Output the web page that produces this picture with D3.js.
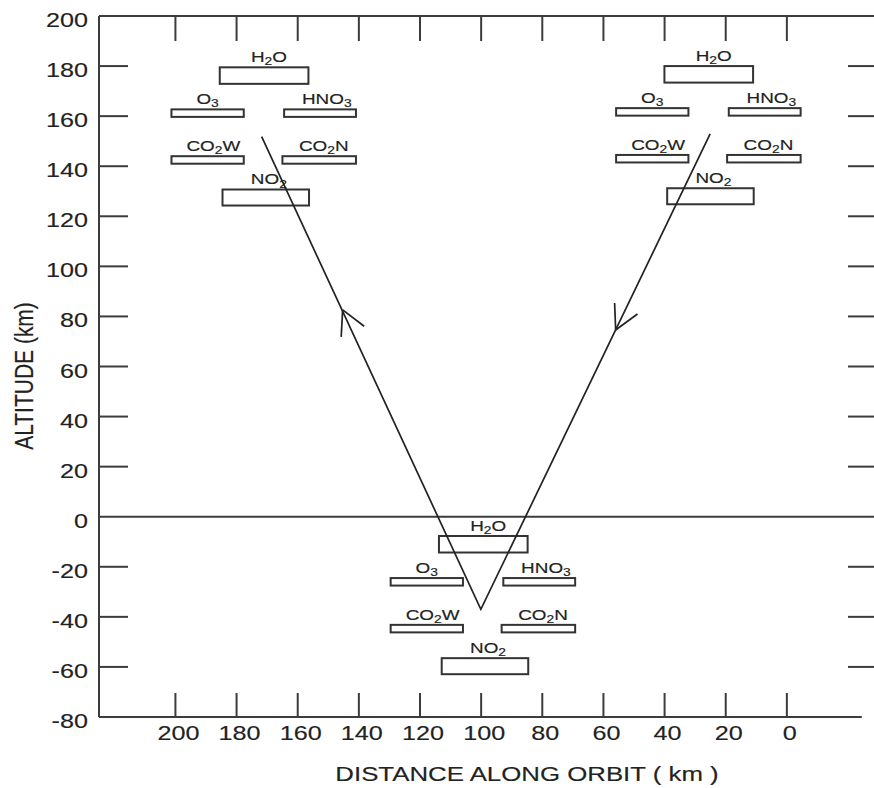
<!DOCTYPE html>
<html><head><meta charset="utf-8">
<script src="https://cdn.jsdelivr.net/npm/d3@7"></script>
<style>body{margin:0;background:#fff} svg{display:block} text{stroke:#222;stroke-width:0.15px}</style>
</head><body><svg id="c" width="874" height="788"></svg>
<script>
// ---- data ----
const xTicks = [200,180,160,140,120,100,80,60,40,20,0];
const yTickLabels = [200,180,160,140,120,100,80,60,40,20,0,-20,-40,-60,-80];
const yTickMarks = [180,160,140,120,100,80,60,40,20,-20,-40,-60];
const xTitle = "DISTANCE ALONG ORBIT ( km )";
const yTitle = "ALTITUDE (km)";

const instruments = ["H2O","O3","HNO3","CO2W","CO2N","NO2"];
const instKmNear   = [14.5, 30.3, -6.55, 30.3, -6.0, 13.6];
const instKmFar    = [-14.5, 6.65, -30.05, 6.65, -30.05, -14.7];
const instAltTop   = [0, -16.8, -16.8, -35.5, -35.5, -48.8];
const instAltBot   = [-6.6, -19.8, -19.8, -38.5, -38.5, -55.2];
const instLabelShift = [-1.6, 0, -2.2, -1.9, -1.5, -1.0];

const clusterKm  = [171.0, 25.55, 99.3];
const clusterAlt = [179.5, 180.0, -7.7];

const trackKm  = [25.1, 100.1, 171.8];
const trackAlt = [152.9, -37.0, 151.8];
const arrowKm  = [56.0, 145.3];
const arrowAlt = [74.6, 82.6];
const arrowSeg = [0, 1]; // segment index of track the arrow lies on

// ---- layout ----
const SX = 1.26; // horizontal text stretch of the reference
const svg = d3.select("#c");
const x = d3.scaleLinear().domain([225, -28.5]).range([99, 874]);
const y = d3.scaleLinear().domain([-80, 200]).range([717, 16]);
const AX = "#3c3c3c";
const FONT = "'Liberation Sans', Arial, Helvetica, sans-serif";

function stext(g, px, py, str, size, anchor) {
  return g.append("text")
    .attr("transform", `translate(${px},${py}) scale(${SX},1)`)
    .attr("text-anchor", anchor)
    .attr("font-family", FONT)
    .attr("font-size", size)
    .attr("fill", "#222")
    .text(str);
}

// frame lines
const frame = svg.append("g").attr("stroke", AX).attr("stroke-width", 2);
frame.append("line").attr("x1", x(225)).attr("x2", x(225)).attr("y1", y(200)).attr("y2", y(-80));
frame.append("line").attr("x1", x(225)).attr("x2", x(-28.5)).attr("y1", y(200)).attr("y2", y(200));
frame.append("line").attr("x1", x(225)).attr("x2", x(-24.5)).attr("y1", y(-80)).attr("y2", y(-80));
frame.append("line").attr("x1", x(225)).attr("x2", x(-28.5)).attr("y1", y(0)).attr("y2", y(0));

// ticks
const tk = svg.append("g").attr("stroke", AX).attr("stroke-width", 2);
xTicks.forEach(v => {
  tk.append("line").attr("x1", x(v)).attr("x2", x(v)).attr("y1", y(200)).attr("y2", y(200) + 25);
  tk.append("line").attr("x1", x(v)).attr("x2", x(v)).attr("y1", y(-80)).attr("y2", y(-80) - 24);
});
yTickMarks.forEach(v => {
  tk.append("line").attr("x1", x(225)).attr("x2", x(225) + 29).attr("y1", y(v)).attr("y2", y(v));
  tk.append("line").attr("x1", x(-28.5) - 26).attr("x2", x(-28.5)).attr("y1", y(v)).attr("y2", y(v));
});

// tick labels
const lab = svg.append("g");
yTickLabels.forEach(v => stext(lab, 88, y(v) + 11, String(v), 20, "end"));
xTicks.forEach(v => stext(lab, x(v) + 3, 740, String(v), 20, "middle"));

// axis titles
stext(lab, 527, 781, xTitle, 20.5, "middle");
lab.append("text")
  .attr("transform", `translate(33,376) scale(${SX},1) rotate(-90)`)
  .attr("text-anchor", "middle")
  .attr("font-family", FONT)
  .attr("font-size", 21).attr("fill", "#222").text(yTitle);

// instrument boxes
const boxes = svg.append("g");
clusterKm.forEach((ck, ci) => {
  const ca = clusterAlt[ci];
  instruments.forEach((name, i) => {
    const x0 = x(ck + instKmNear[i]), x1 = x(ck + instKmFar[i]);
    const y0 = y(ca + instAltTop[i]), y1 = y(ca + instAltBot[i]);
    boxes.append("rect").attr("x", x0).attr("y", y0)
      .attr("width", x1 - x0).attr("height", y1 - y0)
      .attr("fill", "none").attr("stroke", "#333").attr("stroke-width", 2);
    const t = boxes.append("text")
      .attr("transform", `translate(${x(ck + (instKmNear[i] + instKmFar[i]) / 2 + instLabelShift[i])},${y0 - 5}) scale(${SX},1)`)
      .attr("text-anchor", "middle")
      .attr("font-family", FONT)
      .attr("font-size", 15).attr("fill", "#222");
    const parts = name.match(/\d+|\D+/g);
    let sub = false;
    parts.forEach(p => {
      const isSub = /\d/.test(p);
      const ts = t.append("tspan").text(p);
      if (isSub) { ts.attr("font-size", 11).attr("dy", 3); sub = true; }
      else if (sub) { ts.attr("dy", -3); sub = false; }
    });
  });
});

// trajectory
const pts = trackKm.map((k, i) => [x(k), y(trackAlt[i])]);
svg.append("path").attr("d", d3.line()(pts))
  .attr("fill", "none").attr("stroke", "#222").attr("stroke-width", 1.7);

// arrows (open heads, pointing along orbit direction: right top -> vertex -> left top)
arrowKm.forEach((k, i) => {
  const s = arrowSeg[i];
  const [ax, ay] = pts[s], [bx, by] = pts[s + 1];
  const dx = bx - ax, dy = by - ay;
  const len = Math.hypot(dx, dy);
  const bxd = -dx / len, byd = -dy / len; // backward direction
  const tx = x(k), ty = y(arrowAlt[i]);
  const L = 27, ang = 28 * Math.PI / 180;
  [ang, -ang].forEach(a => {
    const rx = bxd * Math.cos(a) - byd * Math.sin(a);
    const ry = bxd * Math.sin(a) + byd * Math.cos(a);
    svg.append("line").attr("x1", tx).attr("y1", ty)
      .attr("x2", tx + rx * L).attr("y2", ty + ry * L)
      .attr("stroke", "#222").attr("stroke-width", 1.7);
  });
});
</script>
</body></html>
